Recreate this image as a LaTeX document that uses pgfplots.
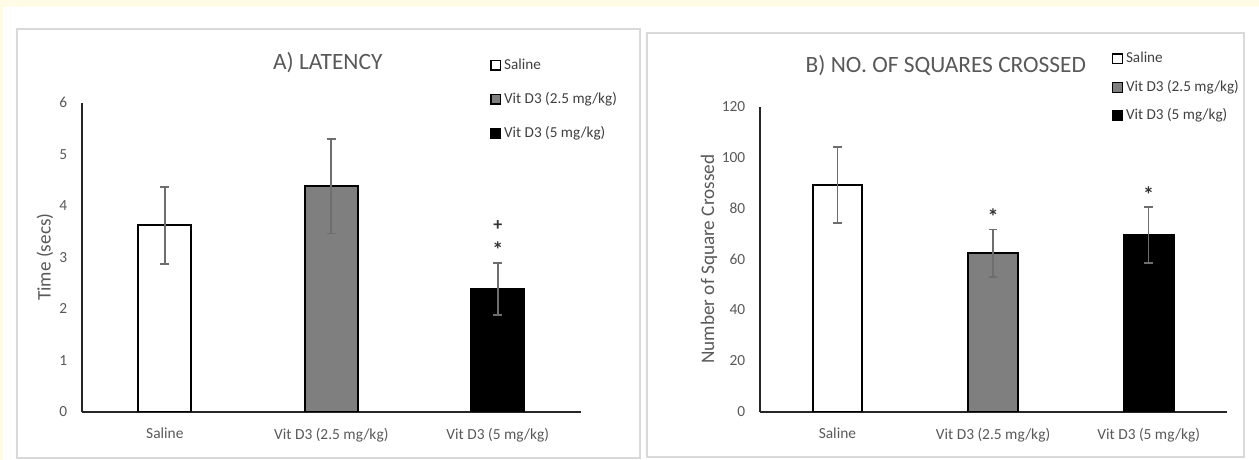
\documentclass[border=0pt]{standalone}
\usepackage{pgfplots}
\pgfplotsset{compat=1.18}
\usepackage{fontspec}
\setmainfont{Carlito}
\definecolor{cream}{HTML}{FFFBE6}
\definecolor{txt}{HTML}{595959}
\definecolor{errc}{HTML}{6E6E6E}
\definecolor{midgray}{HTML}{7F7F7F}
\definecolor{framec}{HTML}{D9D9D9}
\tikzset{sig/.style={font=\fontsize{9pt}{10pt}\selectfont\bfseries,text=black!80,inner sep=0pt},
  ast/.style={font=\fontsize{11pt}{12pt}\selectfont\bfseries,text=black!80,inner sep=0pt,yshift=-2pt}}
\pgfplotsset{
  mystyle/.style={
    scale only axis,
    axis lines*=left,
    axis line style={draw=black!85,line width=1pt},
    major tick length=0pt,
    xmin=-0.5,xmax=2.5,ymin=0,
    xtick={0,1,2},
    xticklabels={Saline,Vit D3 (2.5 mg/kg),Vit D3 (5 mg/kg)},
    ybar, bar width=0.32,
    tick label style={font=\fontsize{7.7pt}{9pt}\selectfont, text=txt, inner sep=0pt},
    /pgf/number format/assume math mode=true,
    yticklabel shift=7pt, xticklabel shift=8pt,
    error bars/y dir=both, error bars/y explicit,
    error bars/error bar style={draw=errc,line width=0.8pt},
    error bars/error mark options={rotate=90,draw=errc,line width=0.9pt,mark size=2.2pt},
    title style={anchor=center,font=\fontsize{11.7pt}{13pt}\selectfont,text=txt},
    ylabel style={anchor=center,font=\fontsize{9.6pt}{11pt}\selectfont,text=txt},
    legend cell align=left,
    legend image code/.code={\draw[#1,/tikz/.cd,line width=0.7pt,draw=black] (0pt,-2.4pt) rectangle (4.8pt,2.4pt);},
    legend style={draw=none,fill=none,inner sep=0pt,outer sep=0pt,anchor=north west,
      font=\fontsize{7.6pt}{9pt}\selectfont,text=black!75,column sep=1.5pt,
      nodes={inner sep=0pt,text height=5.6pt,text depth=1.6pt}},
  },
  barA/.style={fill=white,draw=black,line width=1pt,bar shift=0pt},
  barB/.style={fill=midgray,draw=black,line width=1pt,bar shift=0pt},
  barC/.style={fill=black,draw=black,line width=1pt,bar shift=0pt},
}
\begin{document}
\begin{tikzpicture}
\fill[cream] (0,0) rectangle (629.5pt,230pt);
\fill[white] (1.5pt,0) rectangle (629.5pt,226.5pt);
\draw[framec,line width=1pt] (8.5pt,1pt) rectangle (320pt,215.5pt);
\draw[framec,line width=1pt] (323.5pt,1.5pt) rectangle (622pt,213.5pt);

\begin{axis}[mystyle,
  at={(40.8pt,24.15pt)}, anchor=south west,
  width=249.7pt, height=154.5pt,
  ymax=6, ytick={0,1,2,3,4,5,6},
  title={A) LATENCY},
  title style={at={(axis description cs:0.493,1)},yshift=13.85pt},
  ylabel={Time (secs)},
  ylabel style={at={(axis description cs:-0.0733,0.5)}},
  legend style={at={(axis description cs:0.818,1.1453)},row sep=9.8pt},
]
\addplot[barA] coordinates {(0,3.62) +- (0,0.75)};
\addplot[barB] coordinates {(1,4.38) +- (0,0.92)};
\addplot[barC] coordinates {(2,2.38) +- (0,0.51)};
\legend{Saline,Vit D3 (2.5 mg/kg),Vit D3 (5 mg/kg)}
\node[sig] at (axis cs:2,3.62) {+};
\node[ast] at (axis cs:2,3.22) {*};
\end{axis}

\begin{axis}[mystyle,
  at={(379.8pt,24.15pt)}, anchor=south west,
  width=233.45pt, height=152.5pt,
  ymax=120, ytick={0,20,40,60,80,100,120},
  title={B) NO. OF SQUARES CROSSED},
  title style={at={(axis description cs:0.399,1)},yshift=14.35pt},
  ylabel={Number of Square Crossed},
  ylabel style={at={(axis description cs:-0.1084,0.5)}},
  legend style={at={(axis description cs:0.7548,1.18)},row sep=7.05pt},
]
\addplot[barA] coordinates {(0,89.1) +- (0,15)};
\addplot[barB] coordinates {(1,62.3) +- (0,9.4)};
\addplot[barC] coordinates {(2,69.5) +- (0,11)};
\legend{Saline,Vit D3 (2.5 mg/kg),Vit D3 (5 mg/kg)}
\node[ast] at (axis cs:1,78.3) {*};
\node[ast] at (axis cs:2,86.8) {*};
\end{axis}
\pgfresetboundingbox
\useasboundingbox (0,0) rectangle (629.5pt,230pt);
\end{tikzpicture}
\end{document}
